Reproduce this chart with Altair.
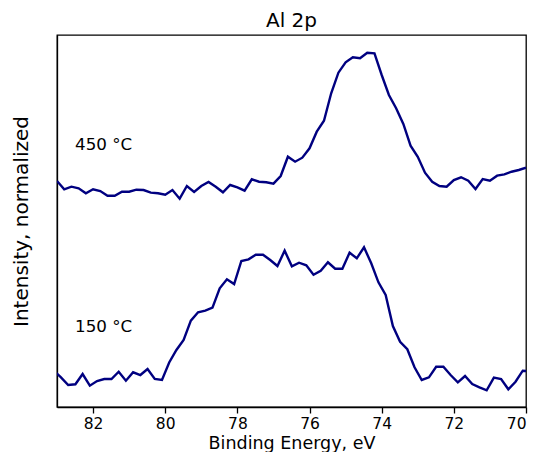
import altair as alt
import pandas as pd

# Al 2p spectra (binding energy in eV, normalized intensity with vertical offset)
energy_450 = [round(83.0 - 0.2 * k, 2) for k in range(66)]
intensity_450 = [
    60.75, 58.52, 59.22, 58.79, 57.45, 58.52, 58.06, 56.80, 56.80, 57.88,
    57.88, 58.41, 58.33, 57.61, 57.45, 57.07, 58.33, 56.00, 59.41, 57.80,
    59.41, 60.48, 59.22, 57.72, 59.68, 59.06, 58.15, 61.21, 60.56, 60.40,
    60.03, 62.10, 67.28, 65.94, 67.02, 69.54, 74.01, 76.96, 84.33, 89.87,
    92.66, 94.01, 93.74, 95.24, 95.08, 89.25, 83.87, 80.30, 76.08, 70.24,
    67.28, 62.98, 60.56, 59.41, 59.22, 61.02, 61.75, 60.83, 58.60, 61.29,
    60.83, 62.18, 62.55, 63.25, 63.71, 64.33,
]

energy_150 = [round(83.09 - 0.2 * m, 2) for m in range(67)]
intensity_150 = [
    9.76, 7.98, 5.91, 6.10, 8.87, 5.73, 6.99, 7.53, 7.53, 9.49,
    7.07, 9.33, 8.60, 10.22, 7.53, 7.26, 11.96, 15.32, 18.01, 23.20,
    25.46, 25.89, 26.69, 31.91, 34.33, 33.06, 39.25, 39.70, 40.94, 40.94,
    39.52, 37.90, 42.02, 37.82, 38.79, 38.09, 35.56, 36.64, 38.90, 37.18,
    37.18, 41.48, 39.97, 42.93, 38.63, 33.52, 30.11, 21.77, 17.55, 15.54,
    10.67, 7.26, 7.98, 10.83, 10.83, 8.60, 6.64, 8.33, 6.18, 5.30,
    4.49, 7.88, 7.53, 4.76, 6.80, 9.76, 9.54,
]

label_text = ["450 °C", "150 °C"]
label_x = [82.5, 82.5]
label_y = [70.4, 21.5]

x_ticks = [82, 80, 78, 76, 74, 72, 70]
chart_title = "Al 2p"

df = pd.concat([
    pd.DataFrame({"energy": energy_450, "intensity": intensity_450, "series": "450"}),
    pd.DataFrame({"energy": energy_150, "intensity": intensity_150, "series": "150"}),
])
labels = pd.DataFrame({"text": label_text, "x": label_x, "y": label_y})
title_df = pd.DataFrame({"t": [chart_title]})

FONT = "DejaVu Sans"
W, H = 469, 372

xscale = alt.Scale(domain=[70, 83], reverse=True, nice=False, zero=False)
yscale = alt.Scale(domain=[0, 100], nice=False, zero=False)

lines = alt.Chart(df).mark_line(color="#000080", strokeWidth=2.4, clip=True).encode(
    x=alt.X("energy:Q", scale=xscale,
            axis=alt.Axis(title="Binding Energy, eV", values=x_ticks, format="d",
                          grid=False, ticks=True, tickSize=6, tickColor="black",
                          tickWidth=1.3, domainColor="black", domainWidth=1.3,
                          labelFont=FONT, labelFontSize=15.5, labelColor="black",
                          labelPadding=3, titleFont=FONT, titleFontSize=17.5,
                          titleFontWeight="normal", titleColor="black",
                          titleBaseline="alphabetic", titleY=41.3)),
    y=alt.Y("intensity:Q", scale=yscale,
            axis=alt.Axis(title="Intensity, normalized", labels=False, ticks=False,
                          grid=False, domainColor="black", domainWidth=1.3,
                          titleFont=FONT, titleFontSize=20,
                          titleFontWeight="normal", titleColor="black",
                          titleBaseline="alphabetic", titlePadding=30)),
    detail="series:N",
)

text = alt.Chart(labels).mark_text(
    align="left", baseline="middle", font=FONT, fontSize=16.7, color="black"
).encode(
    x=alt.X("x:Q", scale=xscale),
    y=alt.Y("y:Q", scale=yscale),
    text="text:N",
)

title_mark = alt.Chart(title_df).mark_text(
    align="center", baseline="alphabetic", font=FONT, fontSize=20, color="black"
).encode(
    x=alt.value(W / 2),
    y=alt.value(-8.3),
    text="t:N",
)

chart = (lines + text + title_mark).properties(
    width=W,
    height=H,
    autosize=alt.AutoSizeParams(type="none"),
    padding={"left": 49, "top": 27, "right": 2, "bottom": 45},
).configure_view(stroke="black", strokeWidth=1.3)

chart.save("out.html", embed_options={"renderer": "svg", "actions": False})
